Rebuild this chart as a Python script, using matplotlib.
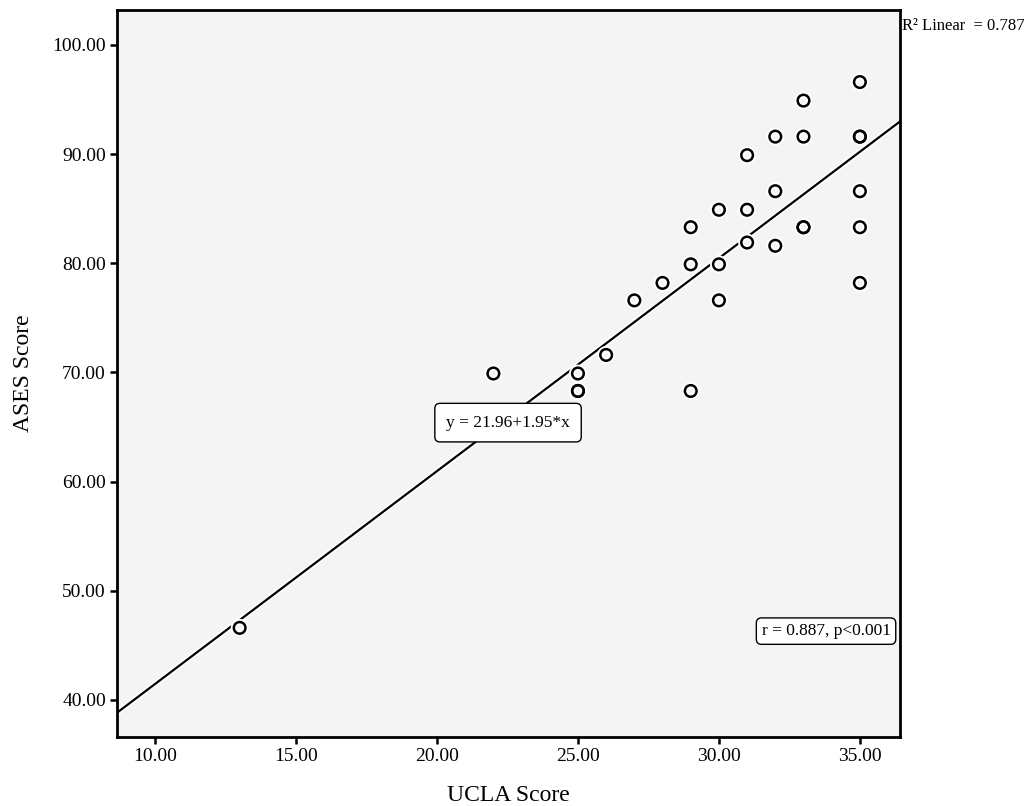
import numpy as np
import matplotlib.pyplot as plt
import matplotlib.patheffects as pe

plt.rcParams['font.family'] = ['Liberation Serif', 'DejaVu Serif']

# UCLA vs ASES scores (duplicates drawn twice)
ucla = [13, 22, 25, 25, 25, 26, 27, 28, 29, 29, 29, 30, 30, 30,
        31, 31, 31, 32, 32, 32, 33, 33, 33, 33, 35, 35, 35, 35, 35, 35]
ases = [46.6, 69.9, 69.9, 68.3, 68.3, 71.6, 76.6, 78.2, 83.3, 79.9, 68.3, 84.9, 79.9, 76.6,
        89.9, 84.9, 81.9, 91.6, 86.6, 81.6, 94.9, 91.6, 83.3, 83.3, 96.6, 91.6, 91.6, 86.6, 83.3, 78.2]

intercept = 21.96
slope = 1.95
xticks = [10, 15, 20, 25, 30, 35]
yticks = [40, 50, 60, 70, 80, 90, 100]

fig = plt.figure(figsize=(10.32, 8.06), dpi=100)
ax = fig.add_axes([0.1134, 0.0856, 0.7586, 0.902])
ax.set_facecolor('#f4f4f4')

ax.set_xlim(8.65, 36.42)
ax.set_ylim(36.6, 103.2)

halo = [pe.Stroke(linewidth=4, foreground='white'), pe.Normal()]

xs = np.array(ax.get_xlim())
ax.plot(xs, intercept + slope * xs, color='black', lw=1.6, zorder=2, path_effects=halo)

ax.scatter(ucla, ases, s=70, facecolors='none', edgecolors='black', linewidths=1.8,
           zorder=3, path_effects=[pe.Stroke(linewidth=4.5, foreground='white'), pe.Normal()])

ax.set_xticks(xticks)
ax.set_xticklabels([f'{v:.2f}' for v in xticks])
ax.set_yticks(yticks)
ax.set_yticklabels([f'{v:.2f}' for v in yticks])
ax.tick_params(direction='out', length=5, width=1.8, labelsize=14, pad=3)

for s in ax.spines.values():
    s.set_linewidth(2)

ax.set_xlabel('UCLA Score', fontsize=17, labelpad=14)
ax.set_ylabel('ASES Score', fontsize=17, labelpad=13)

box = dict(boxstyle='round,pad=0.65,rounding_size=0.3', facecolor='white', edgecolor='black', lw=1)
ax.text(22.52, 65.4, 'y = 21.96+1.95*x', fontsize=12.5, ha='center', va='center', bbox=box)
box2 = dict(boxstyle='round,pad=0.3,rounding_size=0.3', facecolor='white', edgecolor='black', lw=1)
ax.text(33.8, 46.3, 'r = 0.887, p<0.001', fontsize=12.5, ha='center', va='center', bbox=box2)

fig.text(0.874, 0.968, 'R² Linear  = 0.787', fontsize=12, ha='left', va='center')

fig.savefig('out.png', dpi=100)
